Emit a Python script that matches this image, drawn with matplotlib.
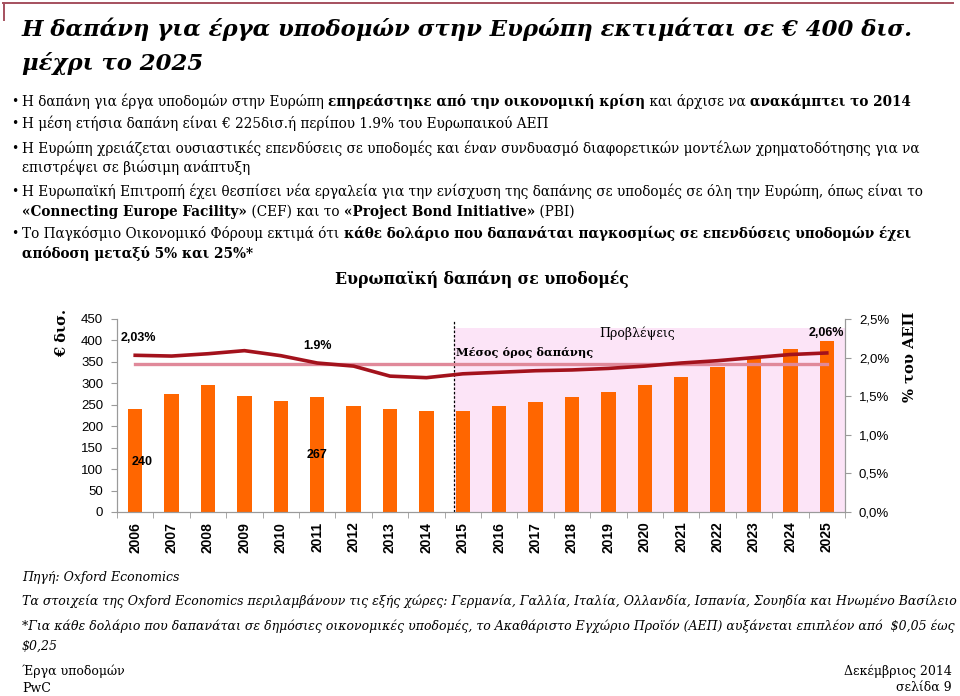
import matplotlib
matplotlib.use("Agg")
import numpy as np
import matplotlib.pyplot as plt
from matplotlib.lines import Line2D
from matplotlib.ticker import MultipleLocator, FuncFormatter

# data
years = list(range(2006, 2026))
spend = [240, 274, 296, 270, 259, 267, 247, 240, 235, 236,
         246, 256, 267, 279, 295, 314, 337, 358, 380, 399]
gdp_share = [2.03, 2.02, 2.05, 2.09, 2.025, 1.93, 1.89, 1.76, 1.74, 1.79,
             1.81, 1.83, 1.84, 1.86, 1.89, 1.93, 1.96, 2.00, 2.04, 2.06]
avg_share = 1.92
forecast_start = 2015

title_lines = ["Η δαπάνη για έργα υποδομών στην Ευρώπη εκτιμάται σε € 400 δισ.",
               "μέχρι το 2025"]

bullets = [
    [[("Η δαπάνη για έργα υποδομών στην Ευρώπη ", False),
      ("επηρεάστηκε από την οικονομική κρίση", True),
      (" και άρχισε να ", False), ("ανακάμπτει το 2014", True)]],
    [[("Η μέση ετήσια δαπάνη είναι € 225δισ.ή περίπου 1.9% του Ευρωπαικού ΑΕΠ", False)]],
    [[("Η Ευρώπη χρειάζεται ουσιαστικές επενδύσεις σε υποδομές και έναν συνδυασμό "
       "διαφορετικών μοντέλων χρηματοδότησης για να", False)],
     [("επιστρέψει σε βιώσιμη ανάπτυξη", False)]],
    [[("Η Ευρωπαϊκή Επιτροπή έχει θεσπίσει νέα εργαλεία για την ενίσχυση της δαπάνης "
       "σε υποδομές σε όλη την Ευρώπη, όπως είναι το", False)],
     [("«Connecting Europe Facility»", True), (" (CEF) και το ", False),
      ("«Project Bond Initiative»", True), (" (PBI)", False)]],
    [[("Το Παγκόσμιο Οικονομικό Φόρουμ εκτιμά ότι ", False),
      ("κάθε δολάριο που δαπανάται παγκοσμίως σε επενδύσεις υποδομών έχει", True)],
     [("απόδοση μεταξύ 5% και 25%*", True)]],
]

footer_italic = [
    "Πηγή: Oxford Economics",
    "Τα στοιχεία της Oxford Economics περιλαμβάνουν τις εξής χώρες: Γερμανία, Γαλλία, "
    "Ιταλία, Ολλανδία, Ισπανία, Σουηδία και Ηνωμένο Βασίλειο",
    "*Για κάθε δολάριο που δαπανάται σε δημόσιες οικονομικές υποδομές, το Ακαθάριστο "
    "Εγχώριο Προϊόν (ΑΕΠ) αυξάνεται επιπλέον από  $0,05 έως",
    "$0,25",
]

SERIF = "DejaVu Serif"
SANS = "Liberation Sans"
BAR = "#FF6600"
LINE = "#A3121C"
AVG = "#E0899A"
SHADE = "#FCE4F7"
AXC = "#9A9A9A"

W, H = 960, 696
fig = plt.figure(figsize=(9.6, 6.96), dpi=100)
r = fig.canvas.get_renderer()


def fx(px):
    return px / W


def fy(py):
    return 1 - py / H


def text_w(s, size, **kw):
    t = fig.text(0, 0, s, size=size, **kw)
    w = t.get_window_extent(r).width
    t.remove()
    return w


def rich(x, y, parts, size, style="normal"):
    cx = x
    for s, b in parts:
        t = fig.text(fx(cx), fy(y), s, family=SERIF, size=size, style=style,
                     weight="bold" if b else "normal", va="baseline", ha="left")
        cx += t.get_window_extent(r).width
    return cx


# top border
fig.add_artist(Line2D([fx(3), fx(953)], [fy(3), fy(3)], color="#A5505E", lw=1.4))
fig.add_artist(Line2D([fx(4), fx(4)], [fy(3), fy(20)], color="#A5505E", lw=1.4))

# title
tsize = 20 * 893 / text_w(title_lines[0], 20, family=SERIF, weight="bold", style="italic")
for s, yb in zip(title_lines, [36, 70]):
    fig.text(fx(22), fy(yb), s, family=SERIF, weight="bold", style="italic",
             size=tsize, va="baseline")

# bullets
bsize = 10 * 885 / sum(text_w(s, 10, family=SERIF, weight="bold" if b else "normal")
                       for s, b in bullets[0][0])
baselines = [[106], [128], [153, 172], [196, 216], [238, 258]]
for lines, ys in zip(bullets, baselines):
    fig.text(fx(15), fy(ys[0] - 1), "•", family=SERIF, size=bsize * 0.9,
             va="baseline", ha="center")
    for parts, yb in zip(lines, ys):
        rich(22, yb, parts, bsize)

fig.text(fx(482), fy(279), "Ευρωπαϊκή δαπάνη σε υποδομές", family=SERIF,
         weight="bold", size=11.3, ha="center", va="center")

# chart
ax = fig.add_axes([fx(117), fy(512), 728 / W, 193 / H])
x = np.arange(len(years))
fs = years.index(forecast_start) - 0.23
ax.axvspan(fs, len(years) - 0.5, ymin=0, ymax=430 / 450, color=SHADE, lw=0, zorder=0)
ax.bar(x, spend, width=0.4, color=BAR, zorder=2)
ax.vlines(fs, 0, 447, colors="black", linestyles=(0, (2, 1.5)), lw=0.9, zorder=3)
ax.set_xlim(-0.5, len(years) - 0.5)
ax.set_ylim(0, 450)
ax.yaxis.set_major_locator(MultipleLocator(50))
ax.set_xticks(x)
ax.set_xticklabels([str(y) for y in years], rotation=90, fontweight="bold",
                   fontsize=10, family=SANS)
ax.set_xticks(np.arange(-0.5, len(years), 1), minor=True)
ax.tick_params(axis="x", which="major", length=0, pad=7)
ax.tick_params(axis="x", which="minor", length=4, color=AXC)
ax.tick_params(axis="y", length=4, color=AXC, pad=6, labelsize=9.5)
for lab in ax.get_yticklabels():
    lab.set_family(SANS)
ax.spines["top"].set_visible(False)
for sp in ["left", "bottom", "right"]:
    ax.spines[sp].set_color(AXC)

ax2 = ax.twinx()
ax2.set_ylim(0, 2.5)
ax2.plot([x[0], x[-1]], [avg_share, avg_share], color=AVG, lw=2.4, zorder=3)
ax2.plot(x, gdp_share, color=LINE, lw=2.6, zorder=4)
ax2.yaxis.set_major_locator(MultipleLocator(0.5))
ax2.yaxis.set_major_formatter(FuncFormatter(lambda v, p: f"{v:.1f}%".replace(".", ",")))
ax2.tick_params(axis="y", length=4, color=AXC, pad=6, labelsize=9.5)
for lab in ax2.get_yticklabels():
    lab.set_family(SANS)
ax2.spines["top"].set_visible(False)
for sp in ["left", "bottom", "right"]:
    ax2.spines[sp].set_color(AXC)

# annotations
ax.text(-0.39, 406, f"{gdp_share[0]:.2f}%".replace(".", ","), family=SANS,
        weight="bold", size=9, va="center", ha="left", zorder=5)
ax.text(5.02, 387, "1.9%", family=SANS, weight="bold", size=9,
        va="center", ha="center", zorder=5)
ax.text(0.19, 117, str(spend[0]), family=SANS, weight="bold", size=9,
        va="center", ha="center", zorder=5)
ax.text(4.99, 133, str(spend[5]), family=SANS, weight="bold", size=9,
        va="center", ha="center", zorder=5)
ax.text(fs + 0.05, 371, "Μέσος όρος δαπάνης", family=SERIF, weight="bold",
        size=8.2, va="center", ha="left", zorder=5)
ax.text(13.8, 417, "Προβλέψεις", family=SERIF, size=9, va="center",
        ha="center", zorder=5)
ax.text(18.98, 417, f"{gdp_share[-1]:.2f}%".replace(".", ","), family=SANS,
        weight="bold", size=9, va="center", ha="center", zorder=5)

fig.text(fx(62), fy(333), "€ δισ.", family=SERIF, weight="bold", size=10.5,
         rotation=90, ha="center", va="center")
fig.text(fx(910), fy(357), "% του ΑΕΠ", family=SERIF, weight="bold", size=10.5,
         rotation=90, ha="center", va="center")

# footer
fsize = 10 * 929 / text_w(footer_italic[1], 10, family=SERIF, style="italic")
for s, yb in zip(footer_italic, [581, 605, 630, 650]):
    fig.text(fx(22), fy(yb), s, family=SERIF, style="italic", size=fsize, va="baseline")

fig.text(fx(22), fy(675), "Έργα υποδομών", family=SERIF, size=9, va="baseline")
fig.text(fx(22), fy(692), "PwC", family=SERIF, size=9, va="baseline")
fig.text(fx(952), fy(675), "Δεκέμβριος 2014", family=SERIF, size=9,
         va="baseline", ha="right")
fig.text(fx(952), fy(692), "σελίδα 9", family=SERIF, size=9,
         va="baseline", ha="right")

fig.savefig("out.png", dpi=100, facecolor="white")
